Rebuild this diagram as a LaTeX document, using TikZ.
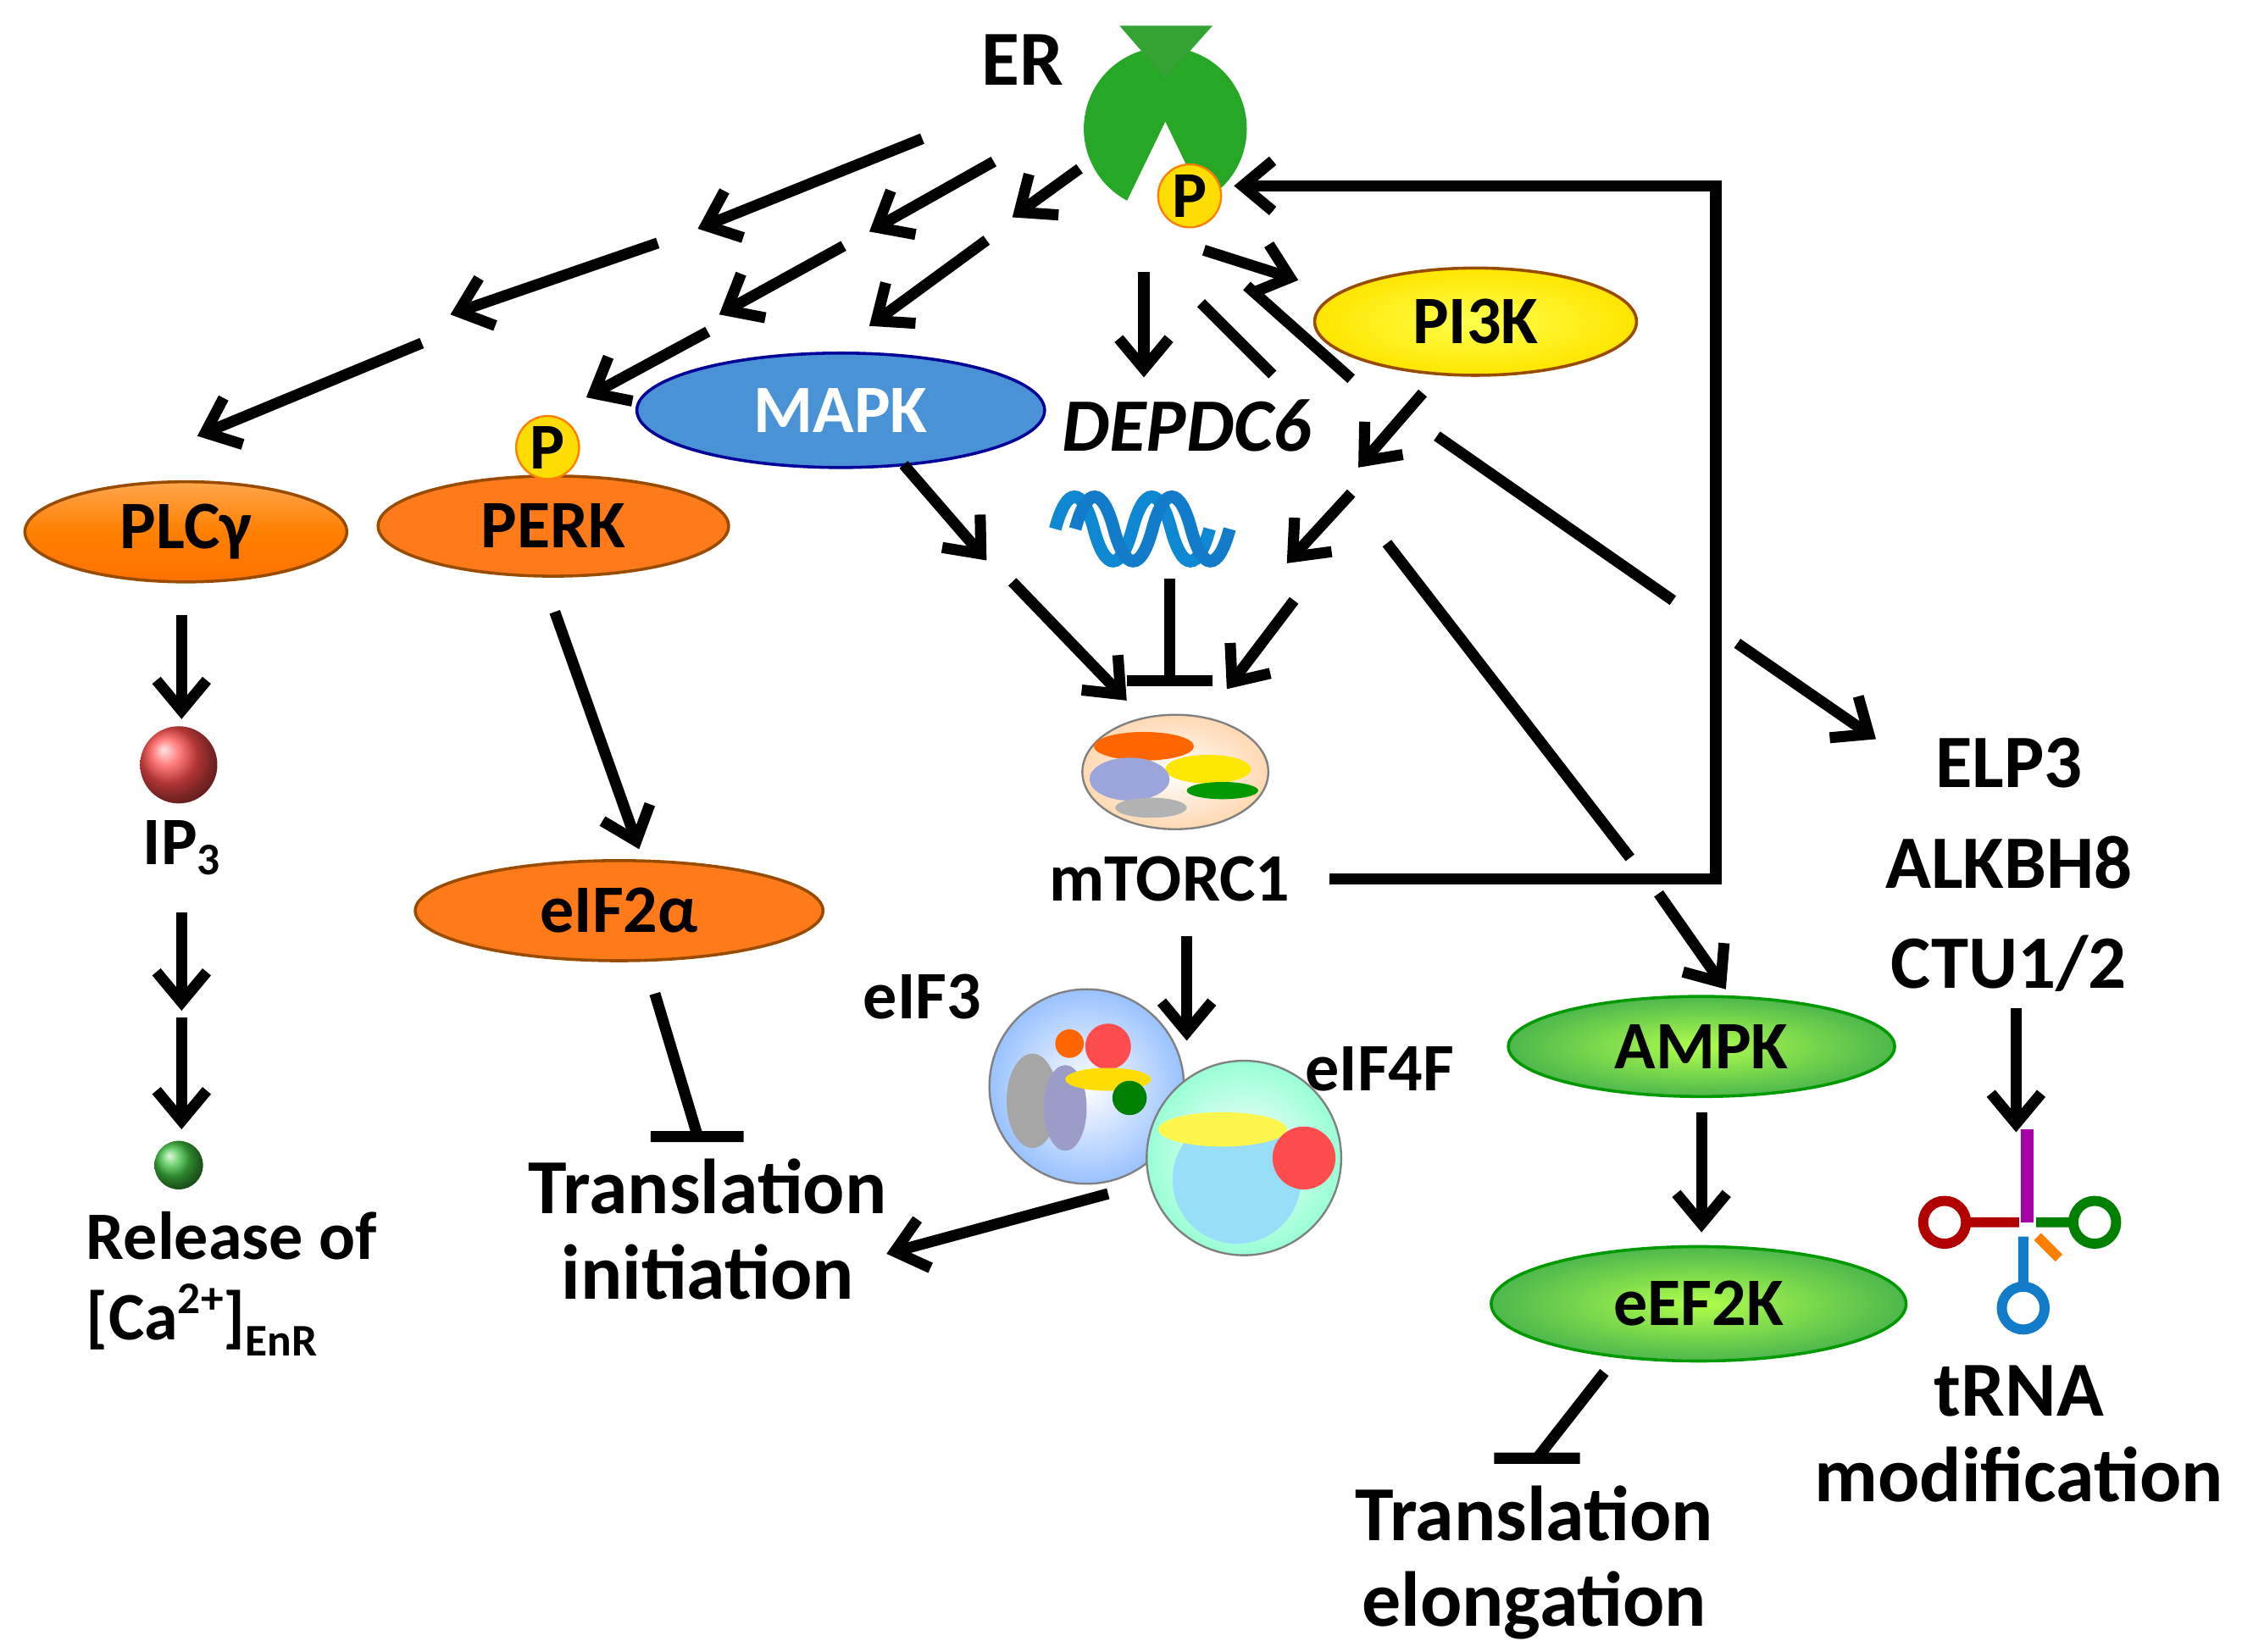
\documentclass[tikz,border=0pt]{standalone}
\usepackage{fontspec}
\setmainfont{Carlito}
\usetikzlibrary{arrows.meta,shapes.geometric}
\begin{document}
\begin{tikzpicture}[x=0.01cm,y=-0.01cm,
 arr/.style={line width=2.2pt,-{Straight Barb[length=6pt,width=10pt]}},
 ln/.style={line width=2.2pt},
 tb/.style={line width=2.2pt,-{Bar[width=17pt]}},
 el/.style={ellipse,draw=#1!60!black,line width=0.6pt,inner sep=0pt,font=\fontsize{13.5}{16}\selectfont\bfseries},
 tx/.style={font=\fontsize{13.5}{16}\selectfont\bfseries,align=center},
 bt/.style={font=\fontsize{15.5}{17}\selectfont\bfseries,align=center},
 pp/.style={circle,fill=yellow!80!orange,draw=orange,inner sep=0pt,minimum size=0.44cm,font=\fontsize{13}{14}\selectfont\bfseries}]
\useasboundingbox (0,0) rectangle (1568,1155);
% receptor
\fill[green!60!black!85!white] (815,90) ++(62:57) arc (62:-242:57) -- (815,85) -- cycle;
\fill[green!55!black!80!white] (783,18) -- (848,18) -- (815,55) -- cycle;
\node[bt] (er) at (715,42) {ER};
\node[pp] (p1) at (832,137) {P};
% nodes
\node[el=orange,top color=orange!70,bottom color=orange!90!red,middle color=orange,minimum width=2.25cm,minimum height=0.7cm] (plc) at (130,372) {PLCγ};
\node[el=orange,fill=orange!85!red!90,minimum width=2.45cm,minimum height=0.7cm] (perk) at (387,368) {PERK};
\node[pp] (p2) at (383,313) {P};
\node[el=blue,fill=cyan!60!blue!75,text=white,minimum width=2.85cm,minimum height=0.8cm] (mapk) at (588,287) {MAPK};
\node[el=orange,inner color=yellow!70,outer color=yellow!80!orange,minimum width=2.25cm,minimum height=0.75cm] (pi3k) at (1032,225) {PI3K};
\node[font=\fontsize{15}{17}\selectfont\bfseries\itshape] (dep) at (830,298) {DEPDC6};
\node[el=orange,fill=orange!85!red!90,minimum width=2.85cm,minimum height=0.7cm] (eif2) at (433,637) {eIF2α};
\node[el=green,inner color=green!25!lime!70,outer color=green!60!black!70,minimum width=2.7cm,minimum height=0.7cm] (ampk) at (1190,732) {AMPK};
\node[el=green,inner color=green!25!lime!70,outer color=green!60!black!70,minimum width=2.9cm,minimum height=0.8cm] (eef) at (1188,912) {eEF2K};
% DNA
\foreach \o/\c in {0/cyan!70!blue,14/cyan!60!blue}
 \draw[\c,line width=2.5pt] (738+\o,370) .. controls +(8,-30) and +(-8,-30) .. ++(27,0) .. controls +(8,30) and +(-8,30) .. ++(27,0)
  .. controls +(8,-30) and +(-8,-30) .. ++(27,0) .. controls +(8,30) and +(-8,30) .. ++(27,0);
% mTORC1 complex
\node[ellipse,draw=gray,inner color=white,outer color=orange!30,minimum width=1.3cm,minimum height=0.8cm] (mt) at (822,540) {};
\fill[orange!80!red] (800,522) ellipse (35 and 10);
\fill[yellow!90!orange] (845,538) ellipse (30 and 10);
\fill[cyan!30!blue!40] (790,545) ellipse (28 and 15);
\fill[green!60!black] (855,553) ellipse (25 and 6);
\fill[gray!60] (805,565) ellipse (25 and 7);
\node[tx] (mtorc) at (818,615) {mTORC1};
% eIF3/eIF4F
\node[circle,draw=gray,inner color=white,outer color=cyan!40!blue!40,minimum size=1.36cm] (e3) at (760,760) {};
\fill[gray!70] (722,770) ellipse (18 and 33);
\fill[blue!30!gray!60] (745,775) ellipse (15 and 30);
\fill[red!70] (775,732) circle (16);
\fill[yellow!80!orange] (775,755) ellipse (30 and 8);
\fill[green!50!black] (790,768) circle (12);
\fill[orange!80!red] (748,730) circle (10);
\node[circle,draw=gray,inner color=white,outer color=green!40!cyan!40,minimum size=1.36cm] (e4) at (870,810) {};
\fill[cyan!40] (865,825) circle (45);
\fill[yellow!70] (855,790) ellipse (45 and 12);
\fill[red!70] (912,810) circle (22);
\node[tx] (l3) at (645,697) {eIF3};
\node[tx] (l4) at (965,748) {eIF4F};
% spheres
\shade[ball color=red!70] (125,535) circle (27);
\node[tx] (ip3) at (127,593) {IP\raisebox{-0.3ex}{\fontsize{9}{9}\selectfont 3}};
\shade[ball color=green!50!gray] (125,815) circle (17);
\node[tx,align=left,anchor=north west] (rel) at (48,835) {Release of\\{[}Ca\raisebox{0.8ex}{\fontsize{9}{9}\selectfont 2+}{]}\raisebox{-0.5ex}{\fontsize{9}{9}\selectfont EnR}};
\node[bt] (ti) at (495,860) {Translation\\initiation};
\node[bt] (te) at (1073,1093) {Translation\\elongation};
\node[tx,font=\fontsize{15}{20}\selectfont\bfseries] (elp) at (1405,605) {ELP3\\ALKBH8\\CTU1/2};
\node[bt] (trm) at (1412,1003) {tRNA\\modification};
% tRNA
\draw[violet!70!magenta,line width=2.5pt] (1418,790) -- (1418,855);
\draw[red!70!black,line width=2pt] (1412,855) -- (1375,855) (1360,855) circle (15);
\draw[green!50!black,line width=2pt] (1424,855) -- (1450,855) (1465,855) circle (15);
\draw[cyan!60!blue,line width=2pt] (1415,865) -- (1415,900) (1415,915) circle (15);
\draw[orange,line width=2pt] (1425,865) -- (1440,880);
% connectors
\draw[arr] (645,97) -- (488,160);
\draw[arr] (460,170) -- (315,220);
\draw[arr] (295,240) -- (138,305);
\draw[arr] (695,113) -- (608,162);
\draw[arr] (590,172) -- (503,220);
\draw[arr] (495,232) -- (410,278);
\draw[arr] (755,118) -- (708,152);
\draw[arr] (690,168) -- (608,228);
\draw[arr] (800,190) -- (800,264);
\draw[arr] (842,175) -- (908,196);
\draw[ln] (840,212) -- (890,262);
\draw[ln] (872,200) -- (945,265);
\draw[ln] (1005,305) -- (1170,420);
\draw[arr] (1215,450) -- (1312,517);
\draw[arr] (632,325) -- (690,392);
\draw[arr] (708,407) -- (788,490);
\draw[arr] (995,275) -- (950,327);
\draw[arr] (945,345) -- (900,394);
\draw[arr] (905,420) -- (858,482);
\draw[tb] (818,405) -- (818,480);
\draw[ln] (970,380) -- (1140,600);
\draw[arr] (1160,625) -- (1207,692);
\draw[arr] (930,615) -- (1200,615) -- (1200,130) -- (863,130);
\draw[arr] (830,655) -- (830,728);
\draw[arr] (775,835) -- (620,877);
\draw[arr] (388,428) -- (447,594);
\draw[ln] (458,695) -- (488,795) (455,795) -- (520,795);
\draw[arr] (127,430) -- (127,503);
\draw[arr] (127,638) -- (127,707);
\draw[arr] (127,712) -- (127,790);
\draw[arr] (1190,778) -- (1190,862);
\draw[ln] (1122,960) -- (1075,1020) (1045,1020) -- (1105,1020);
\draw[arr] (1410,705) -- (1410,792);
\end{tikzpicture}
\end{document}
